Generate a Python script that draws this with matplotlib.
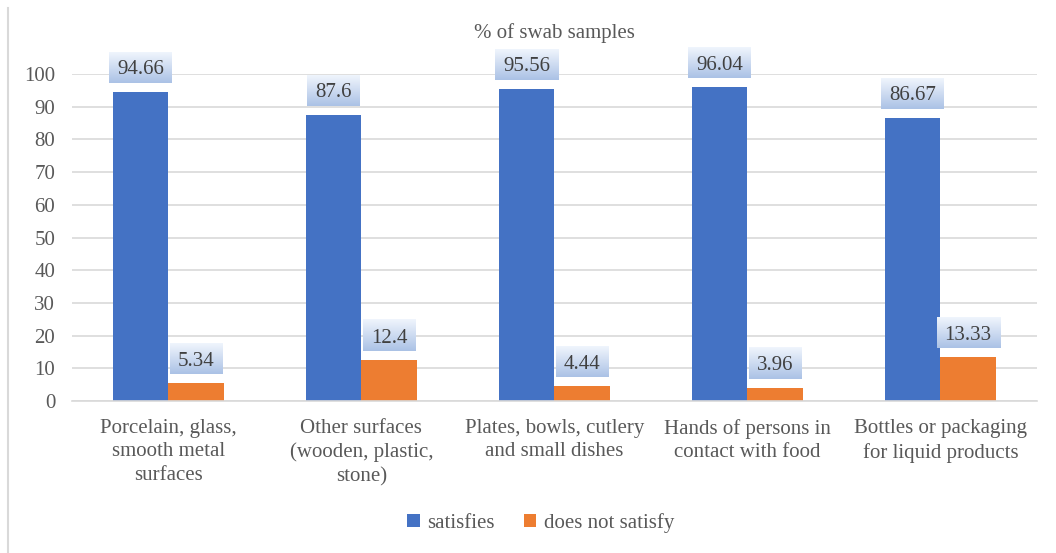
import matplotlib.pyplot as plt
import numpy as np
from matplotlib.lines import Line2D
from matplotlib import font_manager
from matplotlib.font_manager import FontProperties

categories = ['Porcelain, glass,\nsmooth metal\nsurfaces',
              'Other surfaces\n(wooden, plastic,\nstone)',
              'Plates, bowls, cutlery\nand small dishes',
              'Hands of persons in\ncontact with food',
              'Bottles or packaging\nfor liquid products']
satisfies = [94.66, 87.6, 95.56, 96.04, 86.67]
not_satisfy = [5.34, 12.4, 4.44, 3.96, 13.33]
series_names = ['satisfies', 'does not satisfy']
colors = ['#4472c4', '#ed7d31']

serif_path = font_manager.findfont(FontProperties(family='Liberation Serif'))
def fp(size=15):
    return FontProperties(fname=serif_path, size=size)

txt = '#595959'

fig = plt.figure(figsize=(10.56, 5.53), dpi=100)
ax = fig.add_axes([0.068, 0.275, 0.914, 0.591])

x = np.arange(len(categories))
w = 0.287
b1 = ax.bar(x - w/2, satisfies, w, color=colors[0], label=series_names[0])
b2 = ax.bar(x + w/2, not_satisfy, w, color=colors[1], label=series_names[1])

ax.set_xlim(-0.5, len(categories) - 0.5)
ax.set_ylim(0, 100)
ax.set_yticks(range(0, 101, 10))
ax.set_xticks(x)
ax.set_xticklabels(categories, color=txt, linespacing=1.32, fontproperties=fp())
ax.set_yticklabels([str(v) for v in range(0, 101, 10)], color=txt,
                   fontproperties=fp())
ax.tick_params(axis='y', length=0, pad=12)
ax.tick_params(axis='x', length=0, pad=13)
ax.grid(axis='y', color='#d9d9d9', linewidth=1.2)
ax.set_axisbelow(True)
for s in ['left', 'right', 'top']:
    ax.spines[s].set_visible(False)
ax.spines['bottom'].set_color('#d9d9d9')
ax.spines['bottom'].set_linewidth(1.2)

ax.set_title('% of swab samples', color=txt, pad=26, fontproperties=fp())

# value labels with gradient boxes
px_per_unit = ax.bbox.height / 100.0
gap = 9 / px_per_unit
box_h = 31 / px_per_unit
labels = []
for bars, vals in [(b1, satisfies), (b2, not_satisfy)]:
    for r, v in zip(bars, vals):
        t = ax.text(r.get_x() + r.get_width()/2, v + gap + box_h/2, f'{v:g}',
                    ha='center', va='center_baseline', color='#404040',
                    zorder=5, clip_on=False, fontproperties=fp())
        labels.append((t, v))

fig.canvas.draw()
rend = fig.canvas.get_renderer()
grad = np.linspace(0, 1, 64).reshape(-1, 1)
top_c = np.array([0.94, 0.96, 0.99])
bot_c = np.array([0.67, 0.76, 0.90])
img = (top_c + (bot_c - top_c) * grad[..., None]).reshape(64, 1, 3)
inv = ax.transData.inverted()
for t, v in labels:
    bb = t.get_window_extent(rend)
    x0, _ = inv.transform((bb.x0 - 8, 0))
    x1, _ = inv.transform((bb.x1 + 8, 0))
    y0 = v + gap
    y1 = y0 + box_h
    ax.imshow(img, extent=(x0, x1, y0, y1), aspect='auto', zorder=4,
              clip_on=False, interpolation='bilinear', origin='upper')
ax.set_xlim(-0.5, len(categories) - 0.5)
ax.set_ylim(0, 100)

leg = fig.legend(handles=[b1, b2], loc='center', bbox_to_anchor=(0.512, 0.054),
                 ncol=2, frameon=False, prop=fp(15),
                 handlelength=0.6, handleheight=0.6, handletextpad=0.35,
                 columnspacing=1.4)
for t in leg.get_texts():
    t.set_color(txt)

fig.add_artist(Line2D([8/1056, 8/1056], [0, 1 - 8/553], color='#d9d9d9',
                      linewidth=1.5, transform=fig.transFigure))

plt.savefig('out.png', dpi=100)
